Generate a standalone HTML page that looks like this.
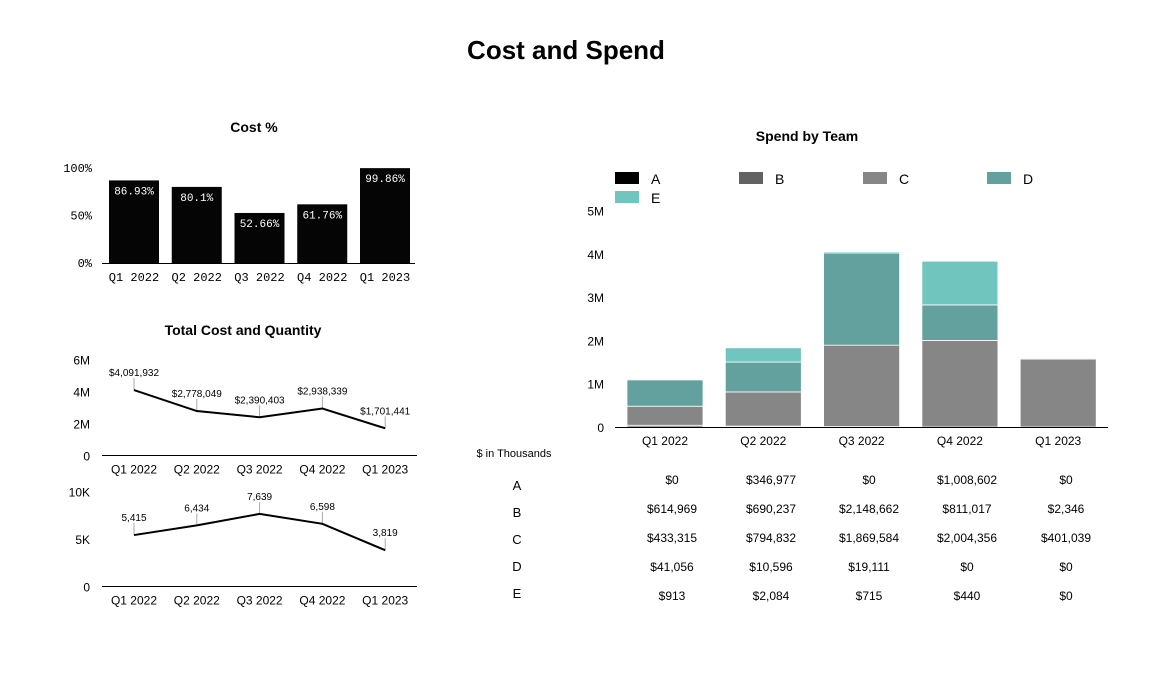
<!DOCTYPE html>
<html><head><meta charset="utf-8"><style>
body{margin:0;width:1171px;height:673px;background:#fff;overflow:hidden;font-family:"Liberation Sans",sans-serif}
svg text{font-family:"Liberation Sans",sans-serif}
.mono{font-family:"Liberation Mono",monospace}
</style></head><body>
<svg id="s" width="1171" height="673">
<text x="566" y="59" text-anchor="middle" font-size="26" font-weight="bold">Cost and Spend</text>
<text x="254" y="132" text-anchor="middle" font-size="14" font-weight="bold">Cost %</text>
<text x="243" y="335" text-anchor="middle" font-size="14" font-weight="bold">Total Cost and Quantity</text>
<text x="807" y="141" text-anchor="middle" font-size="14" font-weight="bold">Spend by Team</text>
<g id="g1"></g><g id="g2"></g><g id="g3"></g><g id="g4"></g><g id="g5"></g>
</svg>
<script>
const quarters=["Q1 2022","Q2 2022","Q3 2022","Q4 2022","Q1 2023"];
const costPct=[86.93,80.1,52.66,61.76,99.86];
const costPctLabels=["86.93%","80.1%","52.66%","61.76%","99.86%"];
const totalCost=[4091932,2778049,2390403,2938339,1701441];
const totalCostLabels=["$4,091,932","$2,778,049","$2,390,403","$2,938,339","$1,701,441"];
const quantity=[5415,6434,7639,6598,3819];
const quantityLabels=["5,415","6,434","7,639","6,598","3,819"];
const teams=["A","B","C","D","E"];
const teamColors=["#000000","#626262","#868686","#62a19d","#71c5bf"];
const spendA=[0,0,0,0,0];
const spendB=[0.04,0.02,0.01,0,0];
const spendC=[0.44,0.79,1.88,2.0,1.57];
const spendD=[0.61,0.69,2.13,0.82,0];
const spendE=[0.02,0.33,0.03,1.01,0.02];
const tableA=["$0","$346,977","$0","$1,008,602","$0"];
const tableB=["$614,969","$690,237","$2,148,662","$811,017","$2,346"];
const tableC=["$433,315","$794,832","$1,869,584","$2,004,356","$401,039"];
const tableD=["$41,056","$10,596","$19,111","$0","$0"];
const tableE=["$913","$2,084","$715","$440","$0"];
const NS="http://www.w3.org/2000/svg";
function mk(p,t,a,txt){const e=document.createElementNS(NS,t);for(const k in a)e.setAttribute(k,a[k]);if(txt!=null)e.textContent=txt;p.appendChild(e);return e;}

// Cost %
const g1=document.getElementById('g1');
const y1=v=>263-v*0.95, x1=i=>134+i*62.75;
[0,50,100].forEach(t=>{const e=mk(g1,'text',{x:92,y:y1(t)+4,'text-anchor':'end','font-size':12,class:'mono'},t+'%');

});
costPct.forEach((v,i)=>{const r=mk(g1,'rect',{x:x1(i)-25,y:y1(v),width:50,height:263-y1(v),fill:'#050505'});


const t=mk(g1,'text',{x:x1(i),y:y1(v)+14,'text-anchor':'middle','font-size':11,fill:'#fff',class:'mono'},costPctLabels[i]);


const q=mk(g1,'text',{x:x1(i),y:281,'text-anchor':'middle','font-size':12,class:'mono'},quarters[i]);

});
const a1=mk(g1,'line',{x1:102,x2:415,y1:263.5,y2:263.5,stroke:'#000'});



// line charts
const xl=i=>134+i*62.8;
function lineChart(g,vals,labels,y0,scale,ticks,tickLabels){
 const y=v=>y0-v*scale;
 ticks.forEach((t,k)=>{const e=mk(g,'text',{x:90,y:y(t)+5,'text-anchor':'end','font-size':12},tickLabels[k]);
 
 });
 const ax=mk(g,'line',{x1:102,x2:417,y1:y0,y2:y0,stroke:'#000'});
 
 
 quarters.forEach((q,i)=>{const e=mk(g,'text',{x:xl(i),y:y0+18,'text-anchor':'middle','font-size':12},q);
 
 });
 vals.forEach((v,i)=>{const l=mk(g,'line',{x1:xl(i),x2:xl(i),y1:y(v),y2:y(v)-12,stroke:'#aaa'});
 
 
 const t=mk(g,'text',{x:xl(i),y:y(v)-14,'text-anchor':'middle','font-size':10},labels[i]);
 
 });
 const p=mk(g,'polyline',{points:vals.map((v,i)=>xl(i)+','+y(v)).join(' '),fill:'none',stroke:'#000','stroke-width':2});
 
 
}
lineChart(document.getElementById('g2'),totalCost,totalCostLabels,455.5,16/1e6,[0,2e6,4e6,6e6],["0","2M","4M","6M"]);
lineChart(document.getElementById('g3'),quantity,quantityLabels,586.5,9.5/1e3,[0,5000,10000],["0","5K","10K"]);

// stacked
const g4=document.getElementById('g4');
const series=[spendA,spendB,spendC,spendD,spendE];
const ys=v=>427-v*43.3, xs=i=>665+i*98.3;
[0,1,2,3,4,5].forEach(t=>{const e=mk(g4,'text',{x:604,y:ys(t)+5,'text-anchor':'end','font-size':12},t?t+'M':'0');

});
quarters.forEach((q,i)=>{let acc=0;series.forEach((s,k)=>{const v=s[i];if(v>0){const r=mk(g4,'rect',{x:xs(i)-38,y:ys(acc+v),width:76,height:v*43.3,fill:teamColors[k],stroke:'#fff','stroke-width':0.8});

}acc+=v;});
const t=mk(g4,'text',{x:xs(i),y:445,'text-anchor':'middle','font-size':12},q);

});
const a4=mk(g4,'line',{x1:615,x2:1108,y1:427.5,y2:427.5,stroke:'#000'});


teams.forEach((t,k)=>{const lx=615+(k%4)*124, ly=172+Math.floor(k/4)*19;
const r=mk(g4,'rect',{x:lx,y:ly,width:24,height:12,fill:teamColors[k]});


const e=mk(g4,'text',{x:lx+36,y:ly+12,'font-size':14},t);

});

// table
const g5=document.getElementById('g5');
const h=mk(g5,'text',{x:514,y:457,'text-anchor':'middle','font-size':11},'$ in Thousands');


[tableA,tableB,tableC,tableD,tableE].forEach((row,r)=>{
const rl=mk(g5,'text',{x:517,y:490+r*27,'text-anchor':'middle','font-size':13},teams[r]);


row.forEach((v,i)=>{const c=mk(g5,'text',{x:[672,771,869,967,1066][i],y:484+r*29,'text-anchor':'middle','font-size':12},v);

});});
</script>
</body></html>
